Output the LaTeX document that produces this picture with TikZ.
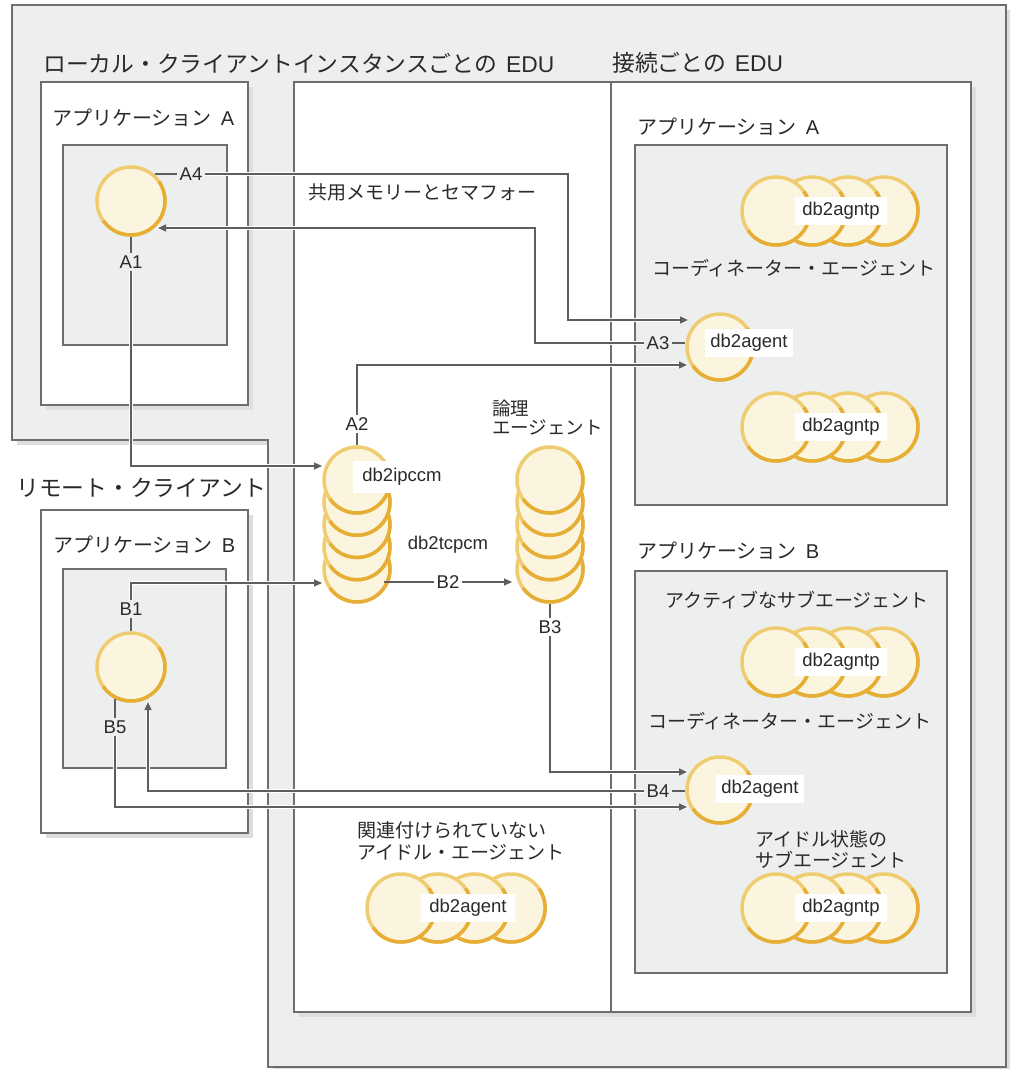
\documentclass[tikz,border=0pt]{standalone}
\usepackage{fontspec}
\setmainfont{Liberation Sans}
\newfontfamily\jpf{Noto Sans CJK JP}
\usetikzlibrary{arrows.meta,calc}
\definecolor{bggray}{HTML}{EDEFEE}
\definecolor{edgec}{HTML}{6E6E6E}
\definecolor{shadc}{HTML}{DDDFDE}
\definecolor{cream}{HTML}{FBF5E0}
\definecolor{goldl}{HTML}{F0CC70}
\definecolor{goldd}{HTML}{E7AE36}
\definecolor{connc}{HTML}{5E5E5E}
\definecolor{txt}{HTML}{2A2A2A}
\tikzset{
  frame/.style={draw=edgec, line width=1.4pt},
  grayarea/.style={frame, fill=bggray},
  whitearea/.style={frame, fill=white},
  shadowfill/.style={fill=shadc, draw=none},
  proc/.style={circle, draw=goldl, fill=cream, line width=3.5pt, inner sep=0pt},
  conn/.style={draw=connc, line width=1.1pt},
  link/.style={conn, preaction={draw=white, line width=4pt, -}},
  arrowlink/.style={link, -{Triangle[length=8pt,width=7pt]}},
  lab/.style={font=\fontsize{18.5}{20}\selectfont, text=txt, inner sep=2pt},
  titletext/.style={font=\jpf\fontsize{22.8}{26}\selectfont, text=txt, anchor=west, inner sep=0pt},
  apptext/.style={font=\jpf\fontsize{20}{22}\selectfont, text=txt, anchor=west, inner sep=0pt},
  jtext/.style={font=\jpf\fontsize{19}{21}\selectfont, text=txt, anchor=west, inner sep=0pt, align=left},
  tag/.style={font=\fontsize{18.5}{20}\selectfont, text=txt, fill=white, inner ysep=5pt},
}
\newcommand\agcirc[3]{%
  \node[proc, minimum size=#3pt] (#1) at (#2) {};
  \draw[draw=goldd, line width=3.5pt] ($(#1.center)+(-35:{#3/2})$) arc[start angle=-35, end angle=145, radius={#3/2}];
}
\begin{document}
\begin{tikzpicture}[x=1pt,y=-1pt]
\useasboundingbox (0,0) rectangle (1010,1069);
% outer gray area
\fill[shadowfill] (17,10) -- (1011,10) -- (1011,1072) -- (273,1072) -- (273,445) -- (17,445) -- cycle;
\fill[bggray] (12,5) rectangle (1006,440);
\fill[bggray] (268,440) rectangle (1006,1067);
\draw[frame] (12,5) -- (1006,5) -- (1006,1067) -- (268,1067) -- (268,440) -- (12,440) -- cycle;
% white boxes
\fill[shadowfill] (46,87) rectangle (253,410);
\draw[whitearea] (41,82) rectangle (248,405);
\fill[shadowfill] (46,515) rectangle (253,838);
\draw[whitearea] (41,510) rectangle (248,833);
\fill[shadowfill] (299,87) rectangle (976,1017);
\draw[whitearea] (294,82) rectangle (971,1012);
\draw[frame] (611,82) -- (611,1012);
% inner gray boxes
\draw[grayarea] (63,145) rectangle (227,345);
\draw[grayarea] (63,569) rectangle (226,768);
\draw[grayarea] (635,145) rectangle (947,505);
\draw[grayarea] (635,571) rectangle (947,973);
% texts
\node[titletext] (tLocal) at (43,63) {ローカル・クライアントインスタンスごとの\hspace{9pt}\rmfamily EDU};
\node[titletext] (tConn) at (612,63) {接続ごとの\hspace{9pt}\rmfamily EDU};
\node[titletext] (tRemote) at (16,488) {リモート・クライアント};
\node[apptext] (tAppA1) at (52,118) {アプリケーション\hspace{9pt}\rmfamily A};
\node[apptext] (tAppA2) at (637,127) {アプリケーション\hspace{9pt}\rmfamily A};
\node[apptext] (tAppB1) at (53,545) {アプリケーション\hspace{9pt}\rmfamily B};
\node[apptext] (tAppB2) at (637,551) {アプリケーション\hspace{9pt}\rmfamily B};
\node[jtext] (tShm) at (308,192) {共用メモリーとセマフォー};
\node[jtext] (tCoordA) at (652,268) {コーディネーター・エージェント};
\node[jtext, font=\jpf\fontsize{18.5}{19.5}\selectfont] (tLogical) at (492,417.5) {論理\\エージェント};
\node[jtext] (tActive) at (665,600) {アクティブなサブエージェント};
\node[jtext] (tCoordB) at (648,721) {コーディネーター・エージェント};
\node[jtext] (tIdle) at (755,849.5) {アイドル状態の\\サブエージェント};
\node[jtext, font=\jpf\fontsize{19}{22}\selectfont] (tUnassoc) at (357,841) {関連付けられていない\\アイドル・エージェント};
\node[lab] (tTcp) at (448,545) {db2tcpcm};
% line labels
\node[lab] (lA4) at (191,174) {A4};
\node[lab] (lA1) at (131,262) {A1};
\node[lab] (lA3) at (658,343) {A3};
\node[lab] (lA2) at (357,424) {A2};
\node[lab] (lB1) at (131,609) {B1};
\node[lab] (lB5) at (115,727) {B5};
\node[lab] (lB2) at (448,582) {B2};
\node[lab] (lB3) at (550,627) {B3};
\node[lab] (lB4) at (658,791) {B4};
% circles
\agcirc{cA}{131,201}{68}
\agcirc{cB}{131,667}{68}
\agcirc{agA}{720,347}{66}
\agcirc{agB}{720,790}{66}
\foreach \i in {5,4,3,2,1} {\agcirc{ipc\i}{357,{480+22.25*(\i-1)}}{66}}
\foreach \i in {5,4,3,2,1} {\agcirc{lg\i}{550,{480+22.25*(\i-1)}}{66}}
\foreach \i in {4,3,2,1} {\agcirc{pa\i}{{776+36*(\i-1)},211}{68}}
\foreach \i in {4,3,2,1} {\agcirc{pb\i}{{776+36*(\i-1)},427}{68}}
\foreach \i in {4,3,2,1} {\agcirc{pc\i}{{776+36*(\i-1)},662}{68}}
\foreach \i in {4,3,2,1} {\agcirc{pd\i}{{776+36*(\i-1)},908}{68}}
\foreach \i in {4,3,2,1} {\agcirc{pu\i}{{401+36.7*(\i-1)},908}{68}}
% tags
\node[tag, inner xsep=9pt, inner ysep=7pt] (tIpc) at (402,477) {db2ipccm};
\node[tag, inner xsep=7pt] (tPa) at (841,211) {db2agntp};
\node[tag, inner xsep=7pt] (tPb) at (841,427) {db2agntp};
\node[tag, inner xsep=7pt] (tPc) at (841,662) {db2agntp};
\node[tag, inner xsep=7pt] (tPd) at (841,908) {db2agntp};
\node[tag, inner xsep=5pt] (tAgA) at (749,343) {db2agent};
\node[tag, inner xsep=5pt] (tAgB) at (760,789) {db2agent};
\node[tag, inner xsep=8pt] (tPu) at (468,908) {db2agent};
% connector coordinates
\coordinate (kA4) at (568,174);
\coordinate (inA4) at (688,320);
\coordinate (kA3) at (535,343);
\coordinate (inA3) at (158,228);
\coordinate (inA1) at (322,466);
\coordinate (inA2) at (687,365);
\coordinate (inB1) at (322,583);
\coordinate (inB2) at (512,582);
\coordinate (inB3) at (687,772);
\coordinate (inB4) at (148,702);
\coordinate (inB5) at (687,807);
% A connectors
\draw[conn] (lA4.west -| cA.48) -- (lA4.west);
\draw[arrowlink] (lA4.east) -- (kA4) |- (inA4);
\draw[conn] (lA3.east) -- (lA3.east -| agA.west);
\draw[arrowlink] (lA3.west) -- (kA3) |- (inA3);
\draw[conn] (cA.south) -- (lA1.north);
\draw[arrowlink] (lA1.south) |- (inA1);
\draw[conn] (ipc1.north) -- (lA2.south);
\draw[arrowlink] (lA2.north) |- (inA2);
% B connectors
\draw[conn] (cB.north) -- (lB1.south);
\draw[arrowlink] (lB1.north) |- (inB1);
\draw[conn] (lB2.west -| ipc5.-40) -- (lB2.west);
\draw[arrowlink] (lB2.east) -- (lB2.east -| inB2);
\draw[conn] (lg5.south) -- (lB3.north);
\draw[arrowlink] (lB3.south) |- (inB3);
\draw[conn] (lB4.east) -- (lB4.east -| agB.west);
\draw[arrowlink] (lB4.west) -| (inB4);
\draw[conn] (lB5.north |- cB.-116) -- (lB5.north);
\draw[arrowlink] (lB5.south) |- (inB5);
\end{tikzpicture}
\end{document}
